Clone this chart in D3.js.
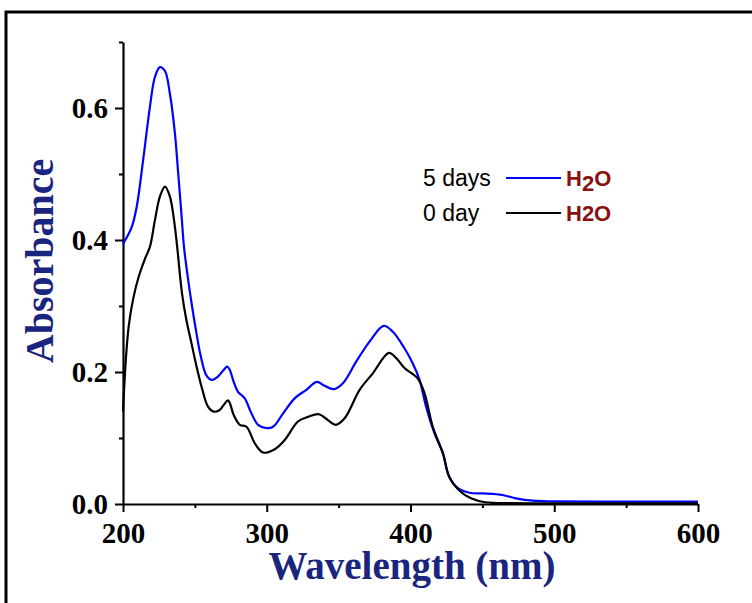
<!DOCTYPE html>
<html>
<head>
<meta charset="utf-8">
<script src="https://cdn.jsdelivr.net/npm/d3@7"></script>
<style>
  html, body { margin: 0; padding: 0; background: #fff; }
  svg { display: block; }
</style>
</head>
<body>
<svg id="chart" width="752" height="603"></svg>
<script>
// UV-Vis absorbance spectra in water (fresh and after 5 days)
const wavelength5d = [200, 206, 209.5, 214, 218.75, 222.2, 225.7, 229.2, 232.6, 236.1, 238.4, 240.8, 242.4, 245, 248, 251, 254, 258, 262, 266, 270, 272.5, 274.3, 277, 280, 284.7, 289.4, 294, 299.8, 304.4, 311.3, 319.4, 327.5, 334.9, 340.3, 346.5, 353, 362.3, 371.5, 381.3, 387.7, 395.8, 401.6, 406.3, 410.9, 416.7, 422.5, 427, 433, 441, 450.2, 464, 473.4, 485, 500, 550, 600];
const absorbance5d = [0.394, 0.419, 0.45, 0.521, 0.602, 0.647, 0.662, 0.656, 0.622, 0.562, 0.501, 0.435, 0.39, 0.345, 0.30, 0.26, 0.225, 0.195, 0.188, 0.193, 0.203, 0.208, 0.203, 0.185, 0.170, 0.160, 0.137, 0.120, 0.115, 0.117, 0.137, 0.160, 0.173, 0.185, 0.179, 0.174, 0.183, 0.216, 0.246, 0.270, 0.261, 0.236, 0.213, 0.188, 0.147, 0.107, 0.077, 0.041, 0.024, 0.017, 0.016, 0.0136, 0.0086, 0.005, 0.004, 0.0035, 0.0035];

const wavelength0d = [200, 202, 204, 207, 211, 215, 218.75, 222.2, 225.7, 229.2, 232.6, 236.1, 237.9, 241, 244, 247, 251, 255, 259, 263, 267, 270, 273, 274.3, 277, 281.25, 285.9, 291.7, 297.4, 305.6, 312.5, 321.7, 328.7, 336.3, 342.6, 347.9, 354.2, 364.6, 373.8, 384.9, 390.1, 395.8, 405.1, 409.7, 415.5, 422.5, 427, 434.7, 442, 452, 470, 500, 550, 600];
const absorbance0d = [0.14, 0.22, 0.27, 0.31, 0.345, 0.37, 0.39, 0.43, 0.466, 0.481, 0.466, 0.42, 0.385, 0.32, 0.28, 0.25, 0.21, 0.175, 0.148, 0.14, 0.142, 0.15, 0.157, 0.153, 0.135, 0.120, 0.117, 0.092, 0.078, 0.083, 0.097, 0.125, 0.132, 0.136, 0.127, 0.120, 0.130, 0.173, 0.198, 0.229, 0.221, 0.206, 0.190, 0.168, 0.117, 0.077, 0.041, 0.019, 0.0086, 0.0026, 0.0012, 0.001, 0.001, 0.001];

const xMajorTicks = [200, 300, 400, 500, 600];
const xMinorTicks = [250, 350, 450, 550];
const yMajorTicks = [0.0, 0.2, 0.4, 0.6];
const yMinorTicks = [0.1, 0.3, 0.5, 0.7];

const legendLabels = ["5 days", "0 day"];

const svg = d3.select("#chart");
const serif = "'Liberation Serif', 'Times New Roman', serif";
const sans = "'Liberation Sans', Arial, sans-serif";
const titleColor = "#1a2580";

svg.append("rect").attr("width", 752).attr("height", 603).attr("fill", "#fff");

// outer frame
svg.append("rect")
  .attr("x", 6).attr("y", 12)
  .attr("width", 770).attr("height", 620)
  .attr("fill", "none").attr("stroke", "#000").attr("stroke-width", 3);

const x = d3.scaleLinear().domain([200, 600]).range([123, 698]);
const y = d3.scaleLinear().domain([0, 0.7]).range([504, 42]);

// x axis: major and minor ticks
const gx = svg.append("g").attr("transform", `translate(0,${y(0)})`);
gx.call(d3.axisBottom(x).tickValues(xMajorTicks).tickFormat(d3.format("d"))
  .tickSize(8).tickSizeOuter(0).tickPadding(10));
gx.append("g").call(d3.axisBottom(x).tickValues(xMinorTicks).tickFormat("")
  .tickSize(4).tickSizeOuter(0)).select(".domain").remove();

// y axis
const gy = svg.append("g").attr("transform", `translate(${x(200)},0)`);
gy.call(d3.axisLeft(y).tickValues(yMajorTicks).tickFormat(d3.format(".1f"))
  .tickSize(8).tickSizeOuter(0).tickPadding(7));
gy.append("g").call(d3.axisLeft(y).tickValues(yMinorTicks).tickFormat("")
  .tickSize(4).tickSizeOuter(0)).select(".domain").remove();

svg.selectAll(".domain").attr("stroke", "#000").attr("stroke-width", 2.2);
svg.selectAll(".tick line").attr("stroke", "#000").attr("stroke-width", 2);
svg.selectAll(".tick text")
  .attr("fill", "#000")
  .style("font-family", serif)
  .style("font-weight", "bold")
  .style("font-size", "29px");

// spectra
const line = d3.line()
  .x(d => x(d[0]))
  .y(d => y(d[1]))
  .curve(d3.curveCatmullRom.alpha(0.5));

svg.append("path")
  .datum(d3.zip(wavelength5d, absorbance5d))
  .attr("d", line)
  .attr("fill", "none").attr("stroke", "#0000ff").attr("stroke-width", 2.2);

svg.append("path")
  .datum(d3.zip(wavelength0d, absorbance0d))
  .attr("d", line)
  .attr("fill", "none").attr("stroke", "#000").attr("stroke-width", 2.2);

// axis titles
svg.append("text")
  .attr("x", 412).attr("y", 579)
  .attr("text-anchor", "middle")
  .attr("fill", titleColor)
  .style("font-family", serif).style("font-weight", "bold").style("font-size", "39px")
  .text("Wavelength (nm)");

svg.append("text")
  .attr("transform", "translate(53,261) rotate(-90)")
  .attr("text-anchor", "middle")
  .attr("fill", titleColor)
  .style("font-family", serif).style("font-weight", "bold").style("font-size", "40px")
  .text("Absorbance");

// legend
const legend = svg.append("g");
const legendRows = [
  { label: legendLabels[0], color: "#0000ff", y: 178, sub: true },
  { label: legendLabels[1], color: "#000", y: 213, sub: false }
];
legendRows.forEach(r => {
  legend.append("text")
    .attr("x", 423).attr("y", r.y + 8)
    .attr("fill", "#000")
    .style("font-family", sans).style("font-size", "23px")
    .text(r.label);
  legend.append("line")
    .attr("x1", 506).attr("x2", 561).attr("y1", r.y).attr("y2", r.y)
    .attr("stroke", r.color).attr("stroke-width", 2);
  const t = legend.append("text")
    .attr("x", 566).attr("y", r.y + 8)
    .attr("fill", "#8b1010")
    .style("font-family", sans).style("font-weight", "bold").style("font-size", "22px");
  if (r.sub) {
    t.append("tspan").text("H");
    t.append("tspan").attr("dy", 5).text("2");
    t.append("tspan").attr("dy", -5).text("O");
  } else {
    t.text("H2O");
  }
});
</script>
</body>
</html>
